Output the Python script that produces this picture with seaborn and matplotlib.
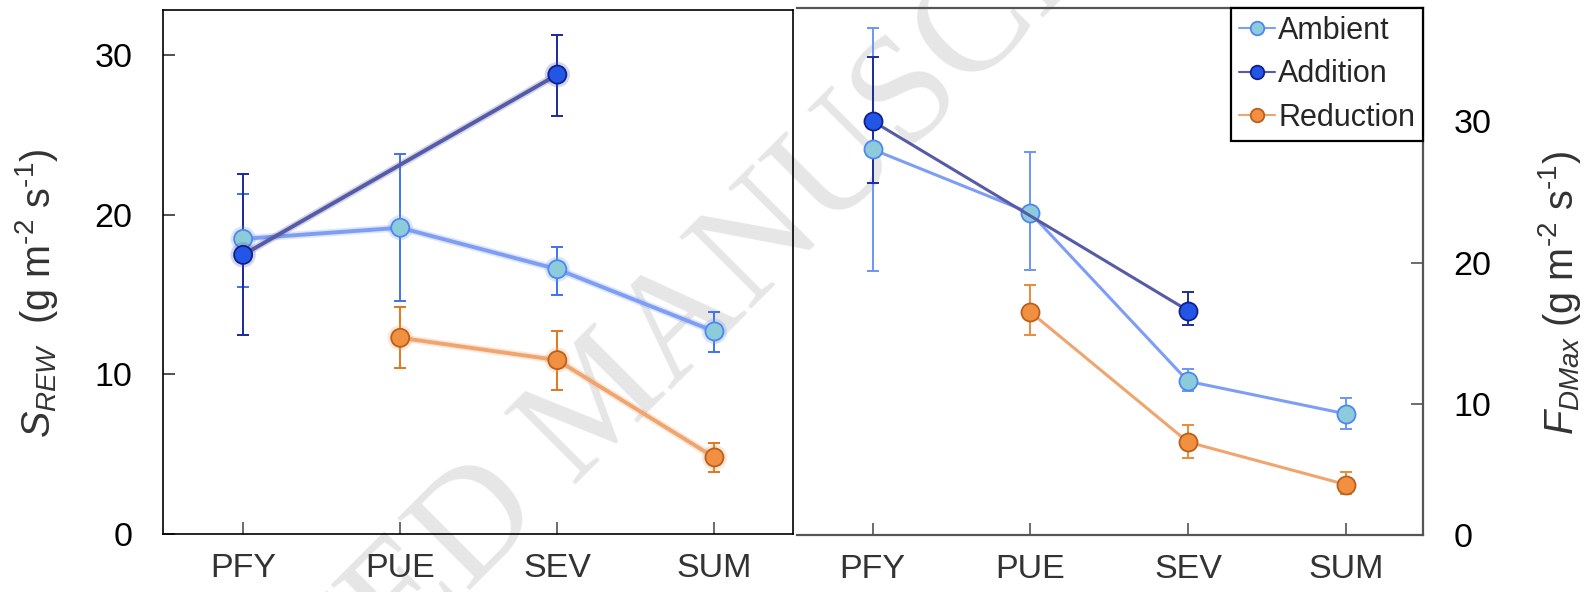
import numpy as np
import pandas as pd
import matplotlib
matplotlib.use("Agg")
import matplotlib.pyplot as plt
import matplotlib.patheffects as pe
import seaborn as sns

# ---------------- data ----------------
categories = ["PFY", "PUE", "SEV", "SUM"]
treatments = ["Ambient", "Addition", "Reduction"]
nan = np.nan

# Left panel: S_REW
srew_ambient = [18.5, 19.2, 16.6, 12.7]
srew_ambient_lo = [15.5, 14.6, 15.0, 11.4]
srew_ambient_hi = [21.3, 23.8, 18.0, 13.9]
srew_addition = [17.5, nan, 28.8, nan]
srew_addition_lo = [12.5, nan, 26.2, nan]
srew_addition_hi = [22.6, nan, 31.3, nan]
srew_reduction = [nan, 12.3, 10.9, 4.8]
srew_reduction_lo = [nan, 10.4, 9.0, 3.9]
srew_reduction_hi = [nan, 14.2, 12.7, 5.7]

# Right panel: F_DMax
fdmax_ambient = [28.0, 23.5, 11.6, 9.3]
fdmax_ambient_lo = [19.4, 19.5, 10.9, 8.2]
fdmax_ambient_hi = [36.6, 27.8, 12.5, 10.4]
fdmax_addition = [30.0, nan, 16.6, nan]
fdmax_addition_lo = [25.6, nan, 15.6, nan]
fdmax_addition_hi = [34.5, nan, 17.9, nan]
fdmax_reduction = [nan, 16.5, 7.3, 4.3]
fdmax_reduction_lo = [nan, 14.9, 6.2, 3.6]
fdmax_reduction_hi = [nan, 18.4, 8.5, 5.2]

left_ticks = [0, 10, 20, 30]
right_ticks = [10, 20, 30]

# ---------------- styles ----------------
sns.set_theme(style="white")
plt.rcParams["font.family"] = ["Liberation Sans", "DejaVu Sans"]
plt.rcParams["mathtext.fontset"] = "custom"
plt.rcParams["mathtext.rm"] = "Liberation Sans"
plt.rcParams["mathtext.it"] = "Liberation Sans:italic"

line_col = {"Ambient": "#7d9ef4", "Addition": "#555ba6", "Reduction": "#f0a46e"}
face_col = {"Ambient": "#8ccbd9", "Addition": "#2456e6", "Reduction": "#f09040"}
edge_col = {"Ambient": "#4f86ef", "Addition": "#0f1f8f", "Reduction": "#b9601c"}
err_left = {"Ambient": "#3f72f2", "Addition": "#1a2a9c", "Reduction": "#e5761c"}
err_right = {"Ambient": "#6d95f6", "Addition": "#1f2d9a", "Reduction": "#ea8a3a"}


def build(vals, los, his):
    rows = []
    for t, v, lo, hi in zip(treatments, vals, los, his):
        for i, c in enumerate(categories):
            rows.append(dict(treatment=t, category=c, xpos=i,
                             value=v[i], lo=lo[i], hi=hi[i]))
    return pd.DataFrame(rows)


df_left = build([srew_ambient, srew_addition, srew_reduction],
                [srew_ambient_lo, srew_addition_lo, srew_reduction_lo],
                [srew_ambient_hi, srew_addition_hi, srew_reduction_hi])
df_right = build([fdmax_ambient, fdmax_addition, fdmax_reduction],
                 [fdmax_ambient_lo, fdmax_addition_lo, fdmax_reduction_lo],
                 [fdmax_ambient_hi, fdmax_addition_hi, fdmax_reduction_hi])

W, H = 1585, 592
fig = plt.figure(figsize=(W / 100, H / 100), dpi=100)

# watermark (behind everything)
fig.text(603 / W, 1 - 405 / H, "ACCEPTED MANUSCRIPT", rotation=45,
         ha="center", va="center", rotation_mode="anchor",
         fontsize=111, color="#e6e6e6", family=["Liberation Serif", "DejaVu Serif"],
         zorder=-5)

ax1 = fig.add_axes([163 / W, 1 - 534 / H, (793 - 163) / W, (534 - 10) / H])
ax2 = fig.add_axes([797 / W, 1 - 535 / H, (1423 - 797) / W, (535 - 8) / H])
for ax in (ax1, ax2):
    ax.patch.set_alpha(0)


def draw(ax, df, lw, errc, glow):
    for t in treatments:
        sub = df[df.treatment == t].dropna(subset=["value"])
        ax.errorbar(sub.xpos, sub.value,
                    yerr=[sub.value - sub.lo, sub.hi - sub.value],
                    fmt="none", ecolor=errc[t], elinewidth=1.4,
                    capsize=4, capthick=1.4, zorder=2)
        n0 = len(ax.lines)
        sns.lineplot(data=sub, x="xpos", y="value", ax=ax, color=line_col[t],
                     linewidth=lw, marker="o", markersize=13,
                     markerfacecolor=face_col[t], markeredgecolor=edge_col[t],
                     markeredgewidth=1.3, label=t, zorder=3, legend=False)
        if glow:
            for ln in ax.lines[n0:]:
                ln.set_path_effects([pe.Stroke(linewidth=lw + 2.5,
                                               foreground=line_col[t], alpha=0.25),
                                     pe.Normal()])


draw(ax1, df_left, 2.8, err_left, True)
draw(ax2, df_right, 2.2, err_right, False)

TL = 24.5
# left axes
ax1.set_xlim(-0.51, 3.5)
ax1.set_ylim(0, 32.85)
ax1.set_yticks(left_ticks)
ax1.set_xticks(range(len(categories)), categories)
ax1.set_xlabel("")
ax1.set_ylabel(r"$S_{REW}$  (g m$^{\text{-2}}$ s$^{\text{-1}}$)", fontsize=28.5, color="#333333")
ax1.yaxis.set_label_coords(-0.2, 0.46)
ax1.yaxis.label.set_verticalalignment("center")
for s in ax1.spines.values():
    s.set_visible(True)
    s.set_color("black")
    s.set_linewidth(1.2)
ax1.tick_params(axis="y", direction="in", length=8.5, width=1.1, color="#222222",
                labelsize=TL, pad=22, labelcolor="black", left=True)
ax1.tick_params(axis="x", direction="in", length=8.5, width=1.1, color="#444444",
                labelsize=TL, pad=14, labelcolor="#333333", bottom=True)

# right axes
ybot = 0.73
ax2.set_xlim(-0.48, 3.49)
ax2.set_ylim(ybot, 38.0)
ax2.yaxis.tick_right()
ax2.yaxis.set_label_position("right")
ax2.set_yticks([ybot] + right_ticks, ["0"] + [str(v) for v in right_ticks])
ax2.set_xticks(range(len(categories)), categories)
ax2.set_xlabel("")
ax2.set_ylabel(r"$F_{DMax}$ (g m$^{\text{-2}}$ s$^{\text{-1}}$)", fontsize=28.5, color="#333333")
ax2.yaxis.set_label_coords(1.218, 0.46)
ax2.yaxis.label.set_verticalalignment("center")
ax2.spines["left"].set_visible(False)
for k in ("top", "right", "bottom"):
    ax2.spines[k].set_visible(True)
    ax2.spines[k].set_color("#555555")
    ax2.spines[k].set_linewidth(1.6)
ax2.tick_params(axis="y", direction="in", length=8.5, width=1.1, color="#444444",
                labelsize=TL, pad=22, labelcolor="black", right=True, left=False)
ax2.tick_params(axis="x", direction="in", length=8.5, width=1.1, color="#444444",
                labelsize=TL, pad=14, labelcolor="#333333", bottom=True)

handles, labels = ax2.get_legend_handles_labels()
leg = ax2.legend(handles, labels, loc="upper right", borderaxespad=0.0,
                 fontsize=22, frameon=True, fancybox=False, framealpha=1,
                 edgecolor="black", handlelength=1.2, handletextpad=0.1,
                 labelspacing=0.45, borderpad=0.25, markerscale=0.75)
leg.get_frame().set_linewidth(1.6)
for h in leg.legend_handles:
    h.set_linewidth(1.5)

fig.savefig("out.png", dpi=100)
